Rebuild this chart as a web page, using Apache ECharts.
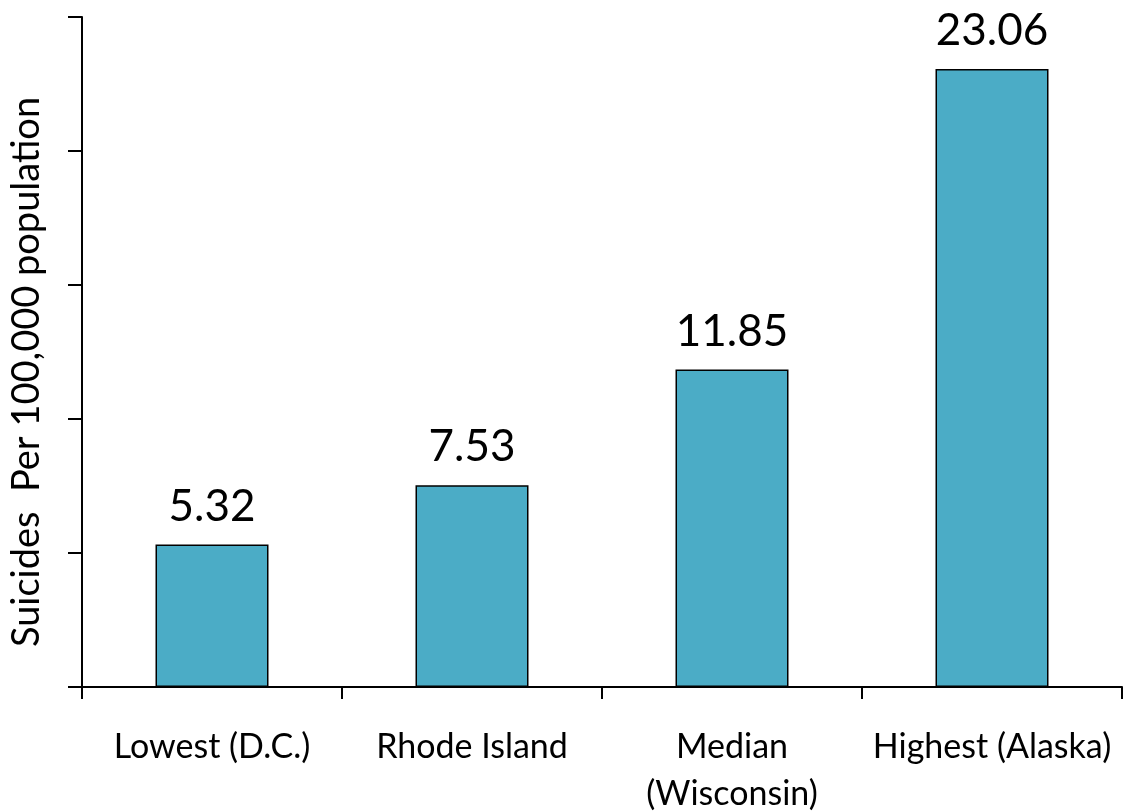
<!DOCTYPE html>
<html><head><meta charset="utf-8">
<script src="https://cdn.jsdelivr.net/npm/echarts@6/dist/echarts.min.js"></script>
<style>html,body{margin:0;padding:0;background:#fff}#c{width:1124px;height:811px}</style>
</head><body><div id="c"></div>
<script>
const categories = ['Lowest (D.C.)', 'Rhode Island', 'Median\n(Wisconsin)', 'Highest (Alaska)'];
const values = [5.32, 7.53, 11.85, 23.06];
const yTitle = 'Suicides  Per 100,000 population';

const chart = echarts.init(document.getElementById('c'), null, {renderer: 'canvas'});
chart.setOption({
  animation: false,
  grid: {left: 82, right: 2, top: 17, bottom: 124, containLabel: false, outerBoundsMode: 'none'},
  xAxis: {
    type: 'category', data: categories,
    axisLine: {lineStyle: {color: '#000', width: 2}},
    axisTick: {show: true, length: 12, lineStyle: {color: '#000', width: 2}},
    axisLabel: {color: '#000', fontFamily: 'Lato', fontSize: 34, margin: 37, lineHeight: 47, interval: 0}
  },
  yAxis: {
    type: 'value', min: 0, max: 25, interval: 5,
    name: yTitle, nameLocation: 'middle', nameGap: 36,
    nameTextStyle: {color: '#000', fontFamily: 'Lato', fontSize: 38, padding: [0, 40, 0, 0]},
    axisLine: {show: true, lineStyle: {color: '#000', width: 2}},
    axisTick: {show: true, length: 14, lineStyle: {color: '#000', width: 2}},
    axisLabel: {show: false},
    splitLine: {show: false}
  },
  series: [{
    type: 'bar', data: values, barWidth: 113,
    itemStyle: {color: '#4BACC6', borderColor: '#000', borderWidth: 1.5},
    label: {show: true, position: 'top', distance: 16, color: '#000', fontFamily: 'Lato', fontSize: 44,
      formatter: p => p.value.toFixed(2)}
  }]
});
</script></body></html>
